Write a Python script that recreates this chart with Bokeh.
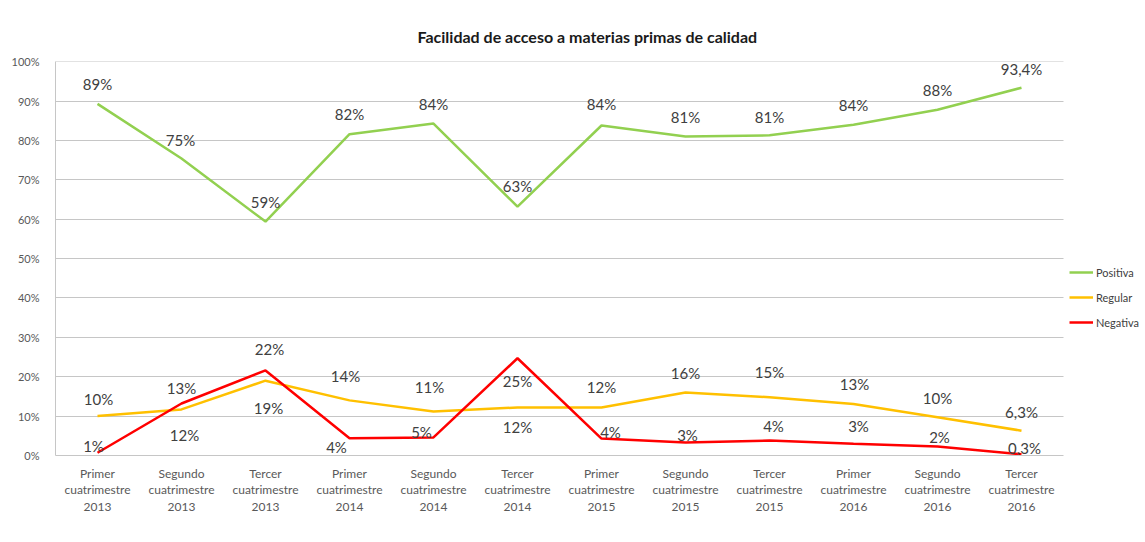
from bokeh.plotting import figure
from bokeh.models import (ColumnDataSource, Range1d, FixedTicker,
                          PrintfTickFormatter, Legend, LegendItem, Title)
from bokeh.core.properties import value
from bokeh.embed import file_html
from bokeh.resources import INLINE

# ---- data ----
periods = [
    "Primer\ncuatrimestre\n2013", "Segundo\ncuatrimestre\n2013", "Tercer\ncuatrimestre\n2013",
    "Primer\ncuatrimestre\n2014", "Segundo\ncuatrimestre\n2014", "Tercer\ncuatrimestre\n2014",
    "Primer\ncuatrimestre\n2015", "Segundo\ncuatrimestre\n2015", "Tercer\ncuatrimestre\n2015",
    "Primer\ncuatrimestre\n2016", "Segundo\ncuatrimestre\n2016", "Tercer\ncuatrimestre\n2016",
]
positiva = [89.3, 75.4, 59.4, 81.6, 84.3, 63.2, 83.8, 81.0, 81.3, 84.0, 87.8, 93.4]
regular = [10.0, 11.7, 19.0, 14.0, 11.2, 12.2, 12.2, 16.0, 14.8, 13.1, 9.7, 6.3]
negativa = [0.7, 13.2, 21.6, 4.4, 4.6, 24.7, 4.3, 3.3, 3.8, 3.0, 2.3, 0.3]

positiva_labels = ["89%", "75%", "59%", "82%", "84%", "63%", "84%", "81%", "81%", "84%", "88%", "93,4%"]
regular_labels = ["10%", "12%", "19%", "14%", "11%", "12%", "12%", "16%", "15%", "13%", "10%", "6,3%"]
negativa_labels = ["1%", "13%", "22%", "4%", "5%", "25%", "4%", "3%", "4%", "3%", "2%", "0,3%"]

y_ticks = [0, 10, 20, 30, 40, 50, 60, 70, 80, 90, 100]

# label offsets in pixels (layout only)
pos_dx = [0, -1, 0, 0, 0, 0, 0, 0, 0, 0, 0, 0]
pos_dy = [-20, -19, -20, -20, -20, -21, -21, -20, -18, -20, -20, -19]
reg_dx = [1, 3, 3, -4, -4, 0, 0, 0, 0, 1, 0, 0]
reg_dy = [-17, 26, 27, -24, -24, 20, -20, -19, -25, -20, -19, -19]
neg_dx = [-4, 0, 4, -13, -12, 0, 9, 2, 4, 5, 2, 3]
neg_dy = [-7, -16, -21, 9, -5, 23, -7, -8, -15, -18, -9, -6]

GREEN = "#92D050"
YELLOW = "#FFC000"
RED = "#FF0000"
FONT = "Lato"
GRID = "#c6c6c6"

n = len(periods)
xs = [i + 0.5 for i in range(n)]          # category centres

# frame spans plot area + legend strip; 84 px per category
x_end = n * 1090 / 1008

p = figure(x_range=Range1d(0, x_end), y_range=Range1d(0, 100.05),
           width=1145, height=542,
           min_border_left=55, min_border_top=61, min_border_bottom=87, min_border_right=0,
           output_backend="svg", toolbar_location=None)

p.add_layout(Title(text="Facilidad de acceso a materias primas de calidad",
                   align="left", offset=362, text_font=FONT, text_font_size="16px",
                   text_font_style="bold", text_color="#1a1a1a", standoff=32), "above")

p.outline_line_color = None
p.background_fill_color = "white"
p.border_fill_color = "white"
p.xgrid.grid_line_color = None

p.yaxis.ticker = FixedTicker(ticks=y_ticks)
p.yaxis.formatter = PrintfTickFormatter(format="%d%%")
p.xaxis.ticker = FixedTicker(ticks=xs)
p.xaxis.major_label_overrides = {x: lab for x, lab in zip(xs, periods)}
p.xaxis.bounds = (0, n)

if hasattr(p.ygrid[0], "cross_bounds"):
    p.ygrid.cross_bounds = (0, n)
    p.ygrid.grid_line_color = GRID
    p.ygrid.grid_line_width = 1
else:
    p.ygrid.grid_line_color = None
    p.segment(x0=[0] * len(y_ticks), x1=[n] * len(y_ticks), y0=y_ticks, y1=y_ticks,
              line_color=GRID, line_width=1)

for ax in (p.xaxis[0], p.yaxis[0]):
    ax.axis_line_color = GRID
    ax.major_tick_line_color = None
    ax.minor_tick_line_color = None
    ax.major_label_text_font = FONT
    ax.major_label_text_color = "#595959"

p.yaxis.major_label_text_font_size = "11px"
p.yaxis.major_label_standoff = 10
p.xaxis.major_label_text_font_size = "12px"
p.xaxis.major_label_standoff = 4
p.xaxis.major_label_text_line_height = 1.13

series = [
    ("Positiva", positiva, positiva_labels, pos_dx, pos_dy, GREEN),
    ("Regular", regular, regular_labels, reg_dx, reg_dy, YELLOW),
    ("Negativa", negativa, negativa_labels, neg_dx, neg_dy, RED),
]

items = []
for name, vals, labs, dx, dy, col in series:
    src = ColumnDataSource(dict(x=xs, y=vals))
    r = p.line("x", "y", source=src, line_color=col, line_width=2.5)
    items.append(LegendItem(label=name, renderers=[r]))

for name, vals, labs, dx, dy, col in series:
    src = ColumnDataSource(dict(x=xs, y=vals, t=labs, dx=dx, dy=dy))
    p.text("x", "y", text="t", source=src, x_offset="dx", y_offset="dy",
           text_align="center", text_baseline="middle",
           text_font=value(FONT), text_font_size="15px", text_color="#404040")

legend = Legend(items=items, location=(1014, 123), orientation="vertical",
                padding=0, margin=0, spacing=5, glyph_width=24, glyph_height=20,
                label_height=20, label_standoff=3,
                label_text_font=FONT, label_text_font_size="11px", label_text_color="#404040",
                border_line_alpha=0, background_fill_alpha=0)
p.add_layout(legend, "center")

open("out.html", "w").write(file_html(p, INLINE))
